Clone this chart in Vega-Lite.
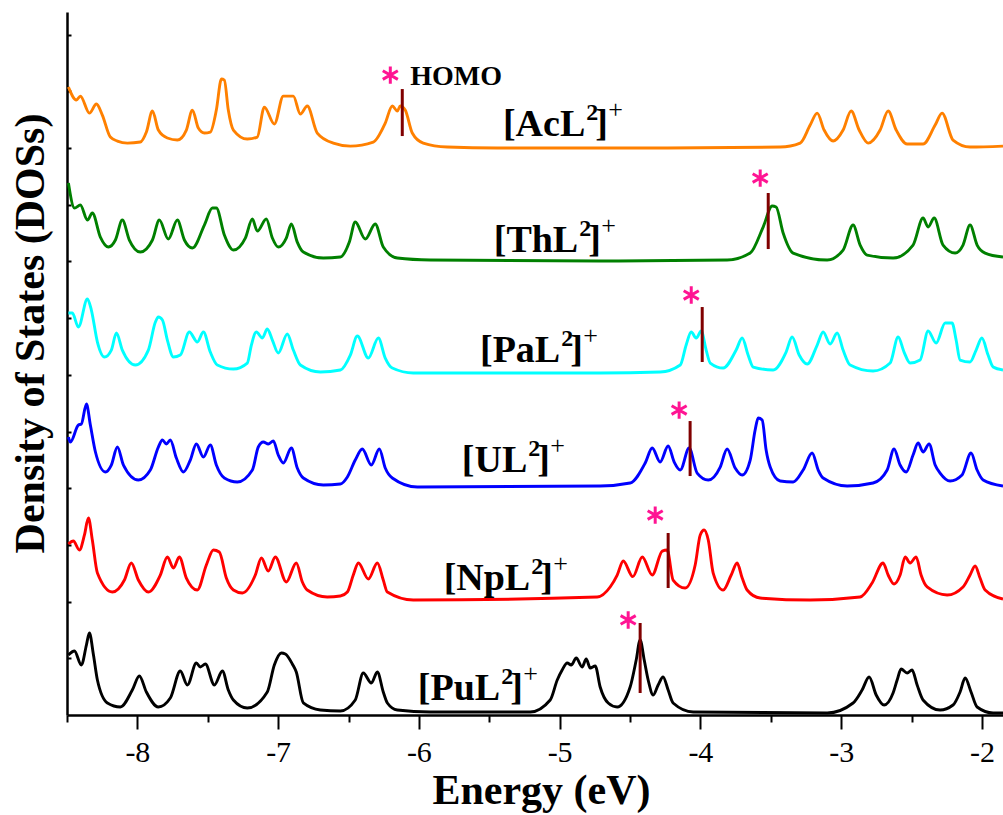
{
"$schema": "https://vega.github.io/schema/vega-lite/v6.json",
"width": 936, "height": 703,
"autosize": {"type": "none"},
"padding": {"left": 67, "top": 12, "right": 0, "bottom": 100},
"background": "white",
"config": {"view": {"stroke": null}, "axis": {"grid": false}},
"datasets": {
"curves": [
{"c":"AcL","x":-8.49,"y":11.076},{"c":"AcL","x":-8.433,"y":10.847},{"c":"AcL","x":-8.405,"y":10.917},{"c":"AcL","x":-8.341,"y":10.617},{"c":"AcL","x":-8.291,"y":10.776},{"c":"AcL","x":-8.249,"y":10.582},{"c":"AcL","x":-8.192,"y":10.194},{"c":"AcL","x":-8.142,"y":10.124},{"c":"AcL","x":-8.071,"y":10.088},{"c":"AcL","x":-7.979,"y":10.106},{"c":"AcL","x":-7.936,"y":10.282},{"c":"AcL","x":-7.893,"y":10.653},{"c":"AcL","x":-7.851,"y":10.318},{"c":"AcL","x":-7.787,"y":10.177},{"c":"AcL","x":-7.716,"y":10.141},{"c":"AcL","x":-7.652,"y":10.318},{"c":"AcL","x":-7.609,"y":10.67},{"c":"AcL","x":-7.567,"y":10.353},{"c":"AcL","x":-7.524,"y":10.265},{"c":"AcL","x":-7.482,"y":10.282},{"c":"AcL","x":-7.439,"y":10.67},{"c":"AcL","x":-7.403,"y":11.217},{"c":"AcL","x":-7.382,"y":11.199},{"c":"AcL","x":-7.354,"y":10.67},{"c":"AcL","x":-7.318,"y":10.318},{"c":"AcL","x":-7.219,"y":10.159},{"c":"AcL","x":-7.148,"y":10.194},{"c":"AcL","x":-7.098,"y":10.723},{"c":"AcL","x":-7.027,"y":10.423},{"c":"AcL","x":-6.963,"y":10.917},{"c":"AcL","x":-6.892,"y":10.917},{"c":"AcL","x":-6.842,"y":10.6},{"c":"AcL","x":-6.793,"y":10.741},{"c":"AcL","x":-6.722,"y":10.265},{"c":"AcL","x":-6.608,"y":10.088},{"c":"AcL","x":-6.487,"y":10.035},{"c":"AcL","x":-6.324,"y":10.106},{"c":"AcL","x":-6.239,"y":10.441},{"c":"AcL","x":-6.189,"y":10.741},{"c":"AcL","x":-6.153,"y":10.653},{"c":"AcL","x":-6.132,"y":10.741},{"c":"AcL","x":-6.097,"y":10.67},{"c":"AcL","x":-6.047,"y":10.265},{"c":"AcL","x":-5.969,"y":10.088},{"c":"AcL","x":-5.798,"y":10.018},{"c":"AcL","x":-5.443,"y":10.0},{"c":"AcL","x":-4.357,"y":10.0},{"c":"AcL","x":-3.433,"y":10.018},{"c":"AcL","x":-3.291,"y":10.088},{"c":"AcL","x":-3.22,"y":10.406},{"c":"AcL","x":-3.17,"y":10.617},{"c":"AcL","x":-3.121,"y":10.318},{"c":"AcL","x":-3.057,"y":10.124},{"c":"AcL","x":-2.986,"y":10.318},{"c":"AcL","x":-2.929,"y":10.653},{"c":"AcL","x":-2.872,"y":10.318},{"c":"AcL","x":-2.808,"y":10.088},{"c":"AcL","x":-2.723,"y":10.318},{"c":"AcL","x":-2.666,"y":10.653},{"c":"AcL","x":-2.609,"y":10.318},{"c":"AcL","x":-2.531,"y":10.071},{"c":"AcL","x":-2.418,"y":10.071},{"c":"AcL","x":-2.332,"y":10.406},{"c":"AcL","x":-2.283,"y":10.617},{"c":"AcL","x":-2.205,"y":10.141},{"c":"AcL","x":-2.084,"y":10.018},{"c":"AcL","x":-1.85,"y":10.035},
{"c":"ThL","x":-8.49,"y":9.383},{"c":"ThL","x":-8.447,"y":8.942},{"c":"ThL","x":-8.405,"y":8.995},{"c":"ThL","x":-8.355,"y":8.73},{"c":"ThL","x":-8.32,"y":8.854},{"c":"ThL","x":-8.263,"y":8.43},{"c":"ThL","x":-8.206,"y":8.254},{"c":"ThL","x":-8.156,"y":8.378},{"c":"ThL","x":-8.107,"y":8.73},{"c":"ThL","x":-8.057,"y":8.378},{"c":"ThL","x":-7.979,"y":8.166},{"c":"ThL","x":-7.893,"y":8.378},{"c":"ThL","x":-7.844,"y":8.73},{"c":"ThL","x":-7.78,"y":8.395},{"c":"ThL","x":-7.716,"y":8.73},{"c":"ThL","x":-7.666,"y":8.378},{"c":"ThL","x":-7.609,"y":8.236},{"c":"ThL","x":-7.524,"y":8.642},{"c":"ThL","x":-7.467,"y":8.942},{"c":"ThL","x":-7.439,"y":8.942},{"c":"ThL","x":-7.382,"y":8.466},{"c":"ThL","x":-7.318,"y":8.201},{"c":"ThL","x":-7.233,"y":8.413},{"c":"ThL","x":-7.183,"y":8.748},{"c":"ThL","x":-7.148,"y":8.536},{"c":"ThL","x":-7.084,"y":8.748},{"c":"ThL","x":-7.041,"y":8.413},{"c":"ThL","x":-6.999,"y":8.254},{"c":"ThL","x":-6.942,"y":8.413},{"c":"ThL","x":-6.906,"y":8.66},{"c":"ThL","x":-6.864,"y":8.342},{"c":"ThL","x":-6.821,"y":8.166},{"c":"ThL","x":-6.679,"y":8.06},{"c":"ThL","x":-6.558,"y":8.078},{"c":"ThL","x":-6.494,"y":8.342},{"c":"ThL","x":-6.452,"y":8.695},{"c":"ThL","x":-6.381,"y":8.395},{"c":"ThL","x":-6.31,"y":8.66},{"c":"ThL","x":-6.253,"y":8.254},{"c":"ThL","x":-6.153,"y":8.06},{"c":"ThL","x":-5.919,"y":8.025},{"c":"ThL","x":-4.712,"y":8.007},{"c":"ThL","x":-3.81,"y":8.025},{"c":"ThL","x":-3.646,"y":8.148},{"c":"ThL","x":-3.554,"y":8.607},{"c":"ThL","x":-3.49,"y":8.977},{"c":"ThL","x":-3.462,"y":8.96},{"c":"ThL","x":-3.412,"y":8.501},{"c":"ThL","x":-3.341,"y":8.148},{"c":"ThL","x":-3.099,"y":8.025},{"c":"ThL","x":-2.986,"y":8.201},{"c":"ThL","x":-2.915,"y":8.642},{"c":"ThL","x":-2.865,"y":8.289},{"c":"ThL","x":-2.815,"y":8.113},{"c":"ThL","x":-2.631,"y":8.06},{"c":"ThL","x":-2.489,"y":8.289},{"c":"ThL","x":-2.418,"y":8.766},{"c":"ThL","x":-2.382,"y":8.607},{"c":"ThL","x":-2.339,"y":8.766},{"c":"ThL","x":-2.276,"y":8.289},{"c":"ThL","x":-2.19,"y":8.148},{"c":"ThL","x":-2.134,"y":8.289},{"c":"ThL","x":-2.084,"y":8.642},{"c":"ThL","x":-2.034,"y":8.289},{"c":"ThL","x":-1.977,"y":8.148},{"c":"ThL","x":-1.85,"y":8.078},
{"c":"PaL","x":-8.49,"y":7.09},{"c":"PaL","x":-8.462,"y":7.09},{"c":"PaL","x":-8.419,"y":6.843},{"c":"PaL","x":-8.355,"y":7.337},{"c":"PaL","x":-8.327,"y":7.143},{"c":"PaL","x":-8.284,"y":6.579},{"c":"PaL","x":-8.234,"y":6.314},{"c":"PaL","x":-8.185,"y":6.437},{"c":"PaL","x":-8.149,"y":6.737},{"c":"PaL","x":-8.107,"y":6.437},{"c":"PaL","x":-8.014,"y":6.173},{"c":"PaL","x":-7.922,"y":6.437},{"c":"PaL","x":-7.872,"y":6.931},{"c":"PaL","x":-7.851,"y":7.02},{"c":"PaL","x":-7.822,"y":6.967},{"c":"PaL","x":-7.787,"y":6.614},{"c":"PaL","x":-7.744,"y":6.314},{"c":"PaL","x":-7.695,"y":6.349},{"c":"PaL","x":-7.631,"y":6.755},{"c":"PaL","x":-7.574,"y":6.579},{"c":"PaL","x":-7.531,"y":6.755},{"c":"PaL","x":-7.482,"y":6.402},{"c":"PaL","x":-7.432,"y":6.173},{"c":"PaL","x":-7.318,"y":6.102},{"c":"PaL","x":-7.219,"y":6.208},{"c":"PaL","x":-7.19,"y":6.526},{"c":"PaL","x":-7.155,"y":6.755},{"c":"PaL","x":-7.112,"y":6.649},{"c":"PaL","x":-7.077,"y":6.808},{"c":"PaL","x":-7.041,"y":6.614},{"c":"PaL","x":-6.999,"y":6.385},{"c":"PaL","x":-6.935,"y":6.72},{"c":"PaL","x":-6.892,"y":6.437},{"c":"PaL","x":-6.842,"y":6.173},{"c":"PaL","x":-6.7,"y":6.049},{"c":"PaL","x":-6.558,"y":6.085},{"c":"PaL","x":-6.487,"y":6.349},{"c":"PaL","x":-6.437,"y":6.684},{"c":"PaL","x":-6.359,"y":6.296},{"c":"PaL","x":-6.288,"y":6.649},{"c":"PaL","x":-6.239,"y":6.296},{"c":"PaL","x":-6.189,"y":6.12},{"c":"PaL","x":-6.04,"y":6.032},{"c":"PaL","x":-4.712,"y":6.032},{"c":"PaL","x":-4.286,"y":6.049},{"c":"PaL","x":-4.143,"y":6.173},{"c":"PaL","x":-4.101,"y":6.526},{"c":"PaL","x":-4.065,"y":6.755},{"c":"PaL","x":-4.03,"y":6.649},{"c":"PaL","x":-3.994,"y":6.773},{"c":"PaL","x":-3.959,"y":6.437},{"c":"PaL","x":-3.93,"y":6.208},{"c":"PaL","x":-3.838,"y":6.12},{"c":"PaL","x":-3.746,"y":6.437},{"c":"PaL","x":-3.703,"y":6.649},{"c":"PaL","x":-3.661,"y":6.349},{"c":"PaL","x":-3.625,"y":6.138},{"c":"PaL","x":-3.483,"y":6.085},{"c":"PaL","x":-3.391,"y":6.402},{"c":"PaL","x":-3.348,"y":6.667},{"c":"PaL","x":-3.298,"y":6.349},{"c":"PaL","x":-3.241,"y":6.19},{"c":"PaL","x":-3.17,"y":6.526},{"c":"PaL","x":-3.128,"y":6.755},{"c":"PaL","x":-3.078,"y":6.543},{"c":"PaL","x":-3.028,"y":6.737},{"c":"PaL","x":-2.986,"y":6.437},{"c":"PaL","x":-2.936,"y":6.173},{"c":"PaL","x":-2.773,"y":6.067},{"c":"PaL","x":-2.652,"y":6.208},{"c":"PaL","x":-2.595,"y":6.667},{"c":"PaL","x":-2.553,"y":6.402},{"c":"PaL","x":-2.51,"y":6.208},{"c":"PaL","x":-2.439,"y":6.261},{"c":"PaL","x":-2.382,"y":6.773},{"c":"PaL","x":-2.325,"y":6.561},{"c":"PaL","x":-2.261,"y":6.914},{"c":"PaL","x":-2.212,"y":6.914},{"c":"PaL","x":-2.183,"y":6.614},{"c":"PaL","x":-2.155,"y":6.261},{"c":"PaL","x":-2.084,"y":6.226},{"c":"PaL","x":-2.041,"y":6.437},{"c":"PaL","x":-2.0,"y":6.649},{"c":"PaL","x":-1.956,"y":6.349},{"c":"PaL","x":-1.92,"y":6.138},{"c":"PaL","x":-1.85,"y":6.085},
{"c":"UL","x":-8.49,"y":4.903},{"c":"UL","x":-8.476,"y":4.815},{"c":"UL","x":-8.419,"y":5.115},{"c":"UL","x":-8.398,"y":5.132},{"c":"UL","x":-8.362,"y":5.485},{"c":"UL","x":-8.334,"y":5.115},{"c":"UL","x":-8.298,"y":4.639},{"c":"UL","x":-8.227,"y":4.286},{"c":"UL","x":-8.185,"y":4.409},{"c":"UL","x":-8.142,"y":4.727},{"c":"UL","x":-8.099,"y":4.409},{"c":"UL","x":-7.993,"y":4.145},{"c":"UL","x":-7.908,"y":4.321},{"c":"UL","x":-7.851,"y":4.727},{"c":"UL","x":-7.822,"y":4.85},{"c":"UL","x":-7.794,"y":4.78},{"c":"UL","x":-7.766,"y":4.85},{"c":"UL","x":-7.723,"y":4.533},{"c":"UL","x":-7.673,"y":4.286},{"c":"UL","x":-7.624,"y":4.497},{"c":"UL","x":-7.581,"y":4.78},{"c":"UL","x":-7.531,"y":4.55},{"c":"UL","x":-7.482,"y":4.762},{"c":"UL","x":-7.439,"y":4.409},{"c":"UL","x":-7.382,"y":4.18},{"c":"UL","x":-7.29,"y":4.109},{"c":"UL","x":-7.183,"y":4.321},{"c":"UL","x":-7.141,"y":4.727},{"c":"UL","x":-7.105,"y":4.815},{"c":"UL","x":-7.07,"y":4.78},{"c":"UL","x":-7.034,"y":4.833},{"c":"UL","x":-6.999,"y":4.586},{"c":"UL","x":-6.963,"y":4.445},{"c":"UL","x":-6.906,"y":4.709},{"c":"UL","x":-6.864,"y":4.356},{"c":"UL","x":-6.821,"y":4.18},{"c":"UL","x":-6.679,"y":4.057},{"c":"UL","x":-6.558,"y":4.074},{"c":"UL","x":-6.508,"y":4.198},{"c":"UL","x":-6.452,"y":4.497},{"c":"UL","x":-6.402,"y":4.691},{"c":"UL","x":-6.338,"y":4.409},{"c":"UL","x":-6.281,"y":4.691},{"c":"UL","x":-6.239,"y":4.356},{"c":"UL","x":-6.189,"y":4.18},{"c":"UL","x":-6.011,"y":4.021},{"c":"UL","x":-4.712,"y":4.039},{"c":"UL","x":-4.499,"y":4.092},{"c":"UL","x":-4.392,"y":4.445},{"c":"UL","x":-4.342,"y":4.709},{"c":"UL","x":-4.286,"y":4.462},{"c":"UL","x":-4.229,"y":4.744},{"c":"UL","x":-4.186,"y":4.462},{"c":"UL","x":-4.143,"y":4.321},{"c":"UL","x":-4.08,"y":4.709},{"c":"UL","x":-4.023,"y":4.268},{"c":"UL","x":-3.944,"y":4.145},{"c":"UL","x":-3.859,"y":4.374},{"c":"UL","x":-3.81,"y":4.691},{"c":"UL","x":-3.753,"y":4.356},{"c":"UL","x":-3.703,"y":4.233},{"c":"UL","x":-3.646,"y":4.497},{"c":"UL","x":-3.611,"y":5.027},{"c":"UL","x":-3.589,"y":5.238},{"c":"UL","x":-3.561,"y":5.203},{"c":"UL","x":-3.533,"y":4.674},{"c":"UL","x":-3.504,"y":4.374},{"c":"UL","x":-3.433,"y":4.127},{"c":"UL","x":-3.341,"y":4.109},{"c":"UL","x":-3.27,"y":4.321},{"c":"UL","x":-3.206,"y":4.621},{"c":"UL","x":-3.163,"y":4.321},{"c":"UL","x":-3.128,"y":4.18},{"c":"UL","x":-2.957,"y":4.039},{"c":"UL","x":-2.773,"y":4.092},{"c":"UL","x":-2.673,"y":4.321},{"c":"UL","x":-2.624,"y":4.691},{"c":"UL","x":-2.581,"y":4.409},{"c":"UL","x":-2.538,"y":4.286},{"c":"UL","x":-2.489,"y":4.586},{"c":"UL","x":-2.453,"y":4.797},{"c":"UL","x":-2.418,"y":4.639},{"c":"UL","x":-2.375,"y":4.78},{"c":"UL","x":-2.332,"y":4.409},{"c":"UL","x":-2.297,"y":4.268},{"c":"UL","x":-2.226,"y":4.127},{"c":"UL","x":-2.141,"y":4.233},{"c":"UL","x":-2.077,"y":4.621},{"c":"UL","x":-2.034,"y":4.321},{"c":"UL","x":-1.991,"y":4.145},{"c":"UL","x":-1.85,"y":4.039},
{"c":"NpL","x":-8.49,"y":3.016},{"c":"NpL","x":-8.455,"y":3.069},{"c":"NpL","x":-8.412,"y":2.91},{"c":"NpL","x":-8.376,"y":3.175},{"c":"NpL","x":-8.348,"y":3.474},{"c":"NpL","x":-8.32,"y":3.086},{"c":"NpL","x":-8.284,"y":2.504},{"c":"NpL","x":-8.178,"y":2.169},{"c":"NpL","x":-8.092,"y":2.381},{"c":"NpL","x":-8.043,"y":2.681},{"c":"NpL","x":-7.993,"y":2.381},{"c":"NpL","x":-7.922,"y":2.169},{"c":"NpL","x":-7.837,"y":2.469},{"c":"NpL","x":-7.787,"y":2.787},{"c":"NpL","x":-7.744,"y":2.593},{"c":"NpL","x":-7.702,"y":2.787},{"c":"NpL","x":-7.652,"y":2.416},{"c":"NpL","x":-7.574,"y":2.205},{"c":"NpL","x":-7.51,"y":2.646},{"c":"NpL","x":-7.46,"y":2.91},{"c":"NpL","x":-7.418,"y":2.875},{"c":"NpL","x":-7.368,"y":2.416},{"c":"NpL","x":-7.318,"y":2.205},{"c":"NpL","x":-7.254,"y":2.152},{"c":"NpL","x":-7.162,"y":2.469},{"c":"NpL","x":-7.119,"y":2.769},{"c":"NpL","x":-7.07,"y":2.54},{"c":"NpL","x":-7.02,"y":2.787},{"c":"NpL","x":-6.942,"y":2.346},{"c":"NpL","x":-6.871,"y":2.681},{"c":"NpL","x":-6.828,"y":2.346},{"c":"NpL","x":-6.793,"y":2.205},{"c":"NpL","x":-6.651,"y":2.081},{"c":"NpL","x":-6.558,"y":2.099},{"c":"NpL","x":-6.508,"y":2.169},{"c":"NpL","x":-6.466,"y":2.469},{"c":"NpL","x":-6.43,"y":2.681},{"c":"NpL","x":-6.359,"y":2.399},{"c":"NpL","x":-6.295,"y":2.681},{"c":"NpL","x":-6.253,"y":2.381},{"c":"NpL","x":-6.224,"y":2.169},{"c":"NpL","x":-6.04,"y":2.028},{"c":"NpL","x":-4.733,"y":2.081},{"c":"NpL","x":-4.641,"y":2.258},{"c":"NpL","x":-4.591,"y":2.469},{"c":"NpL","x":-4.548,"y":2.716},{"c":"NpL","x":-4.48,"y":2.44},{"c":"NpL","x":-4.413,"y":2.787},{"c":"NpL","x":-4.342,"y":2.469},{"c":"NpL","x":-4.271,"y":2.892},{"c":"NpL","x":-4.236,"y":2.91},{"c":"NpL","x":-4.194,"y":2.381},{"c":"NpL","x":-4.108,"y":2.24},{"c":"NpL","x":-4.037,"y":2.646},{"c":"NpL","x":-4.001,"y":3.175},{"c":"NpL","x":-3.973,"y":3.263},{"c":"NpL","x":-3.944,"y":3.086},{"c":"NpL","x":-3.909,"y":2.504},{"c":"NpL","x":-3.838,"y":2.205},{"c":"NpL","x":-3.781,"y":2.469},{"c":"NpL","x":-3.739,"y":2.681},{"c":"NpL","x":-3.703,"y":2.416},{"c":"NpL","x":-3.668,"y":2.205},{"c":"NpL","x":-3.575,"y":2.063},{"c":"NpL","x":-3.22,"y":2.028},{"c":"NpL","x":-2.865,"y":2.081},{"c":"NpL","x":-2.78,"y":2.328},{"c":"NpL","x":-2.702,"y":2.681},{"c":"NpL","x":-2.666,"y":2.469},{"c":"NpL","x":-2.624,"y":2.31},{"c":"NpL","x":-2.581,"y":2.469},{"c":"NpL","x":-2.545,"y":2.787},{"c":"NpL","x":-2.51,"y":2.681},{"c":"NpL","x":-2.467,"y":2.787},{"c":"NpL","x":-2.432,"y":2.469},{"c":"NpL","x":-2.389,"y":2.258},{"c":"NpL","x":-2.247,"y":2.116},{"c":"NpL","x":-2.134,"y":2.258},{"c":"NpL","x":-2.084,"y":2.469},{"c":"NpL","x":-2.048,"y":2.628},{"c":"NpL","x":-2.013,"y":2.416},{"c":"NpL","x":-1.977,"y":2.205},{"c":"NpL","x":-1.85,"y":2.046},
{"c":"PuL","x":-8.49,"y":1.058},{"c":"PuL","x":-8.447,"y":1.129},{"c":"PuL","x":-8.398,"y":0.882},{"c":"PuL","x":-8.362,"y":1.235},{"c":"PuL","x":-8.341,"y":1.446},{"c":"PuL","x":-8.312,"y":1.058},{"c":"PuL","x":-8.284,"y":0.617},{"c":"PuL","x":-8.213,"y":0.212},{"c":"PuL","x":-8.121,"y":0.141},{"c":"PuL","x":-8.036,"y":0.441},{"c":"PuL","x":-7.986,"y":0.688},{"c":"PuL","x":-7.936,"y":0.406},{"c":"PuL","x":-7.851,"y":0.141},{"c":"PuL","x":-7.766,"y":0.3},{"c":"PuL","x":-7.695,"y":0.776},{"c":"PuL","x":-7.645,"y":0.529},{"c":"PuL","x":-7.581,"y":0.917},{"c":"PuL","x":-7.553,"y":0.847},{"c":"PuL","x":-7.517,"y":0.899},{"c":"PuL","x":-7.453,"y":0.529},{"c":"PuL","x":-7.396,"y":0.776},{"c":"PuL","x":-7.354,"y":0.441},{"c":"PuL","x":-7.318,"y":0.265},{"c":"PuL","x":-7.219,"y":0.123},{"c":"PuL","x":-7.077,"y":0.406},{"c":"PuL","x":-7.027,"y":0.882},{"c":"PuL","x":-6.977,"y":1.094},{"c":"PuL","x":-6.949,"y":1.076},{"c":"PuL","x":-6.899,"y":0.899},{"c":"PuL","x":-6.871,"y":0.758},{"c":"PuL","x":-6.821,"y":0.212},{"c":"PuL","x":-6.7,"y":0.088},{"c":"PuL","x":-6.558,"y":0.071},{"c":"PuL","x":-6.452,"y":0.265},{"c":"PuL","x":-6.395,"y":0.741},{"c":"PuL","x":-6.338,"y":0.564},{"c":"PuL","x":-6.295,"y":0.758},{"c":"PuL","x":-6.253,"y":0.406},{"c":"PuL","x":-6.224,"y":0.212},{"c":"PuL","x":-6.153,"y":0.088},{"c":"PuL","x":-5.919,"y":0.053},{"c":"PuL","x":-5.209,"y":0.053},{"c":"PuL","x":-5.067,"y":0.265},{"c":"PuL","x":-5.017,"y":0.617},{"c":"PuL","x":-4.982,"y":0.794},{"c":"PuL","x":-4.946,"y":0.917},{"c":"PuL","x":-4.918,"y":0.882},{"c":"PuL","x":-4.882,"y":1.005},{"c":"PuL","x":-4.84,"y":0.847},{"c":"PuL","x":-4.811,"y":0.988},{"c":"PuL","x":-4.783,"y":0.829},{"c":"PuL","x":-4.747,"y":0.864},{"c":"PuL","x":-4.712,"y":0.494},{"c":"PuL","x":-4.655,"y":0.212},{"c":"PuL","x":-4.591,"y":0.141},{"c":"PuL","x":-4.499,"y":0.494},{"c":"PuL","x":-4.456,"y":0.97},{"c":"PuL","x":-4.428,"y":1.323},{"c":"PuL","x":-4.399,"y":0.97},{"c":"PuL","x":-4.371,"y":0.617},{"c":"PuL","x":-4.335,"y":0.353},{"c":"PuL","x":-4.3,"y":0.529},{"c":"PuL","x":-4.265,"y":0.67},{"c":"PuL","x":-4.229,"y":0.441},{"c":"PuL","x":-4.194,"y":0.212},{"c":"PuL","x":-4.051,"y":0.053},{"c":"PuL","x":-3.099,"y":0.035},{"c":"PuL","x":-2.915,"y":0.212},{"c":"PuL","x":-2.851,"y":0.441},{"c":"PuL","x":-2.801,"y":0.67},{"c":"PuL","x":-2.751,"y":0.353},{"c":"PuL","x":-2.695,"y":0.176},{"c":"PuL","x":-2.631,"y":0.388},{"c":"PuL","x":-2.602,"y":0.617},{"c":"PuL","x":-2.574,"y":0.811},{"c":"PuL","x":-2.531,"y":0.741},{"c":"PuL","x":-2.496,"y":0.794},{"c":"PuL","x":-2.46,"y":0.529},{"c":"PuL","x":-2.418,"y":0.265},{"c":"PuL","x":-2.297,"y":0.088},{"c":"PuL","x":-2.205,"y":0.176},{"c":"PuL","x":-2.155,"y":0.406},{"c":"PuL","x":-2.119,"y":0.653},{"c":"PuL","x":-2.077,"y":0.406},{"c":"PuL","x":-2.034,"y":0.141},{"c":"PuL","x":-1.92,"y":0.035},{"c":"PuL","x":-1.85,"y":0.035}
],
"homo": [
{"c":"AcL","x":-6.118,"y1":10.212,"y2":11.041},
{"c":"ThL","x":-3.518,"y1":8.219,"y2":9.207},
{"c":"PaL","x":-3.987,"y1":6.226,"y2":7.196},
{"c":"UL","x":-4.073,"y1":4.215,"y2":5.185},
{"c":"NpL","x":-4.229,"y1":2.24,"y2":3.21},
{"c":"PuL","x":-4.428,"y1":0.388,"y2":1.623}
],
"stars": [
{"c":"AcL","x":-6.203,"y":11.288},
{"c":"ThL","x":-3.575,"y":9.471},
{"c":"PaL","x":-4.065,"y":7.408},
{"c":"UL","x":-4.151,"y":5.379},
{"c":"NpL","x":-4.321,"y":3.527},
{"c":"PuL","x":-4.513,"y":1.676}
],
"labels": [
{"name":"[AcL","x":-4.818,"y":10.212},
{"name":"[ThL","x":-4.868,"y":8.166},
{"name":"[PaL","x":-4.996,"y":6.226},
{"name":"[UL","x":-5.23,"y":4.286},
{"name":"[NpL","x":-5.209,"y":2.205},
{"name":"[PuL","x":-5.422,"y":0.265}
],
"homotext": [
{"t":"HOMO","x":-6.061,"y":11.111}
]
},
"layer": [
{
"data": {"name": "curves"},
"mark": {"type": "line", "interpolate": "monotone", "strokeWidth": 2.9},
"encoding": {
"x": {"field": "x", "type": "quantitative",
"scale": {"domain": [-8.5, -1.85], "nice": false, "zero": false},
"axis": {"orient": "bottom", "values": [-8,-7,-6,-5,-4,-3,-2], "labelExpr": "'-' + toString(-datum.value)",
"tickSize": 14, "tickWidth": 2, "tickColor": "black", "domainColor": "black", "domainWidth": 2.5,
"labelFont": "Liberation Serif", "labelFontSize": 30, "labelColor": "black", "labelPadding": 8, "labelFlush": false, "labelOverlap": false,
"title": "Energy (eV)", "titleFont": "Liberation Serif", "titleFontSize": 42, "titleFontWeight": "bold", "titleColor": "black",
"titleBaseline": "alphabetic", "titleAlign": "center", "titleX": 474, "titleY": 88}},
"y": {"field": "y", "type": "quantitative",
"scale": {"domain": [0, 12.4], "nice": false},
"axis": {"orient": "left", "values": [1,2,3,4,5,6,7,8,9,10,11,12], "labels": false, "tickSize": -4, "tickWidth": 2, "tickColor": "black",
"domainColor": "black", "domainWidth": 2.5,
"title": "Density of States (DOSs)", "titleFont": "Liberation Serif", "titleFontSize": 42, "titleFontWeight": "bold", "titleColor": "black",
"titleAngle": -90, "titleBaseline": "alphabetic", "titleAlign": "center", "titleX": -24, "titleY": 321}},
"color": {"field": "c", "type": "nominal",
"scale": {"domain": ["AcL","ThL","PaL","UL","NpL","PuL"], "range": ["#FF8000","#008000","#00FFFF","#0000FF","#FF0000","#000000"]},
"legend": null}
}
},
{
"data": {"name": "homo"},
"mark": {"type": "rule", "color": "#800000", "strokeWidth": 3},
"encoding": {
"x": {"field": "x", "type": "quantitative",
"axis": {"orient": "bottom", "values": [-8.5,-7.5,-6.5,-5.5,-4.5,-3.5,-2.5], "labels": false, "domain": false,
"tickSize": 7, "tickWidth": 2, "tickColor": "black", "title": null}},
"y": {"field": "y1", "type": "quantitative"},
"y2": {"field": "y2"}
}
},
{
"data": {"name": "stars"},
"mark": {"type": "point", "shape": "M0,-1L0,1M-0.87,-0.5L0.87,0.5M-0.87,0.5L0.87,-0.5", "size": 300, "filled": false, "stroke": "#FF1493", "strokeWidth": 3, "opacity": 1},
"encoding": {
"x": {"field": "x", "type": "quantitative", "axis": null},
"y": {"field": "y", "type": "quantitative"}
}
},
{
"data": {"name": "labels"},
"mark": {"type": "text", "align": "right", "baseline": "alphabetic", "font": "Liberation Serif", "fontWeight": "bold", "fontSize": 38, "color": "black"},
"encoding": {
"x": {"field": "x", "type": "quantitative", "axis": null},
"y": {"field": "y", "type": "quantitative"},
"text": {"field": "name"}
}
},
{
"data": {"name": "labels"},
"mark": {"type": "text", "text": "2", "align": "left", "baseline": "alphabetic", "dx": 1, "dy": -16, "font": "Liberation Serif", "fontWeight": "bold", "fontSize": 24, "color": "black"},
"encoding": {
"x": {"field": "x", "type": "quantitative", "axis": null},
"y": {"field": "y", "type": "quantitative"}
}
},
{
"data": {"name": "labels"},
"mark": {"type": "text", "text": "]", "align": "left", "baseline": "alphabetic", "dx": 10, "font": "Liberation Serif", "fontWeight": "bold", "fontSize": 38, "color": "black"},
"encoding": {
"x": {"field": "x", "type": "quantitative", "axis": null},
"y": {"field": "y", "type": "quantitative"}
}
},
{
"data": {"name": "labels"},
"mark": {"type": "text", "text": "+", "align": "left", "baseline": "alphabetic", "dx": 23, "dy": -18, "font": "Liberation Serif", "fontWeight": "normal", "fontSize": 26, "color": "black"},
"encoding": {
"x": {"field": "x", "type": "quantitative", "axis": null},
"y": {"field": "y", "type": "quantitative"}
}
},
{
"data": {"name": "homotext"},
"mark": {"type": "text", "align": "left", "baseline": "alphabetic", "font": "Liberation Serif", "fontWeight": "bold", "fontSize": 28, "color": "black"},
"encoding": {
"x": {"field": "x", "type": "quantitative", "axis": null},
"y": {"field": "y", "type": "quantitative"},
"text": {"field": "t"}
}
}
],
"resolve": {"axis": {"x": "independent"}}
}
